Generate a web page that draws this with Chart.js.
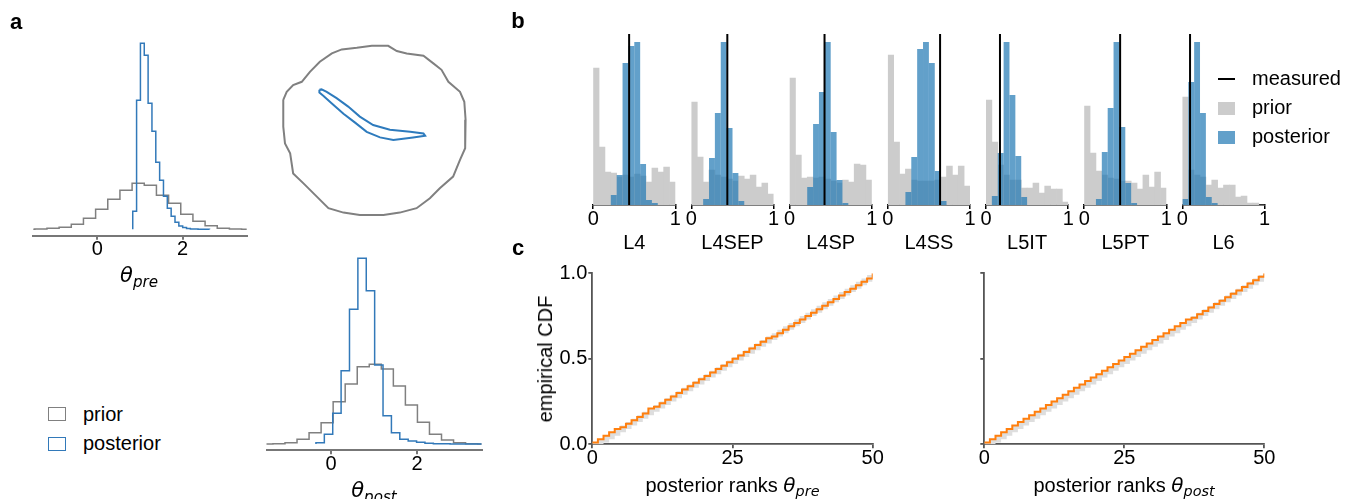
<!DOCTYPE html>
<html>
<head>
<meta charset="utf-8">
<script src="https://cdn.jsdelivr.net/npm/chart.js@4.4.1/dist/chart.umd.min.js"></script>
<style>
  html, body { margin: 0; padding: 0; background: #fff; }
  #fig { position: relative; width: 1361px; height: 499px; overflow: hidden;
         font-family: "Liberation Sans", Arial, sans-serif; color: #000; }
  .m { font-family: "DejaVu Sans", sans-serif; font-style: italic; }
  .m sub { font-size: 0.72em; position: relative; top: 0.3em; vertical-align: baseline; }
</style>
</head>
<body>
<div id="fig"></div>
<script>
// ── Panel a: step histograms (bin start, bin width, heights) ──────────────────
const aTicks = [0, 2];
const priorPreStart = -1.75, priorPreWidth = 0.285;
const priorPreCounts = [0.1, 0.2, 1, 2, 5, 11, 20, 30, 39, 46, 44, 34, 26, 15, 8, 3.5, 1, 0.3, 0.1, 0.05];
const postPreStart = 0.83, postPreWidth = 0.09;
const postPreCounts = [18, 129, 186, 174, 126, 98, 67, 49, 33, 21, 13, 7, 3.3, 1.7, 0.7, 0.4, 0.2, 0.1, 0.1, 0.1];
const priorPostStart = -1.63, priorPostWidth = 0.28;
const priorPostCounts = [0, 0.3, 1.3, 4.7, 11.3, 21.3, 42.3, 60, 77.3, 79.7, 75, 58, 39, 21.7, 9.7, 4, 1.3, 0.3, 0.1, 0];
const postPostStart = -0.35, postPostWidth = 0.195;
const postPostCounts = [1.3, 9.7, 30.7, 73.3, 134.7, 185.7, 153.3, 79, 28.3, 11.3, 4.7, 3, 1.7, 0.7, 0.3, 0.2, 0.1, 0.1, 0.1, 0.1];

// contour lines (x = θ_post, y = θ_pre), closed loops
const priorContourX = [-1.11,-1.03,-0.88,-0.68,-0.49,-0.26,0.02,0.25,0.60,0.95,1.33,1.53,1.76,2.15,2.38,2.57,2.73,3.00,3.10,3.13,3.12,3.00,2.84,2.53,2.30,1.99,1.60,1.22,0.67,0.29,-0.06,-0.33,-0.64,-0.88,-0.95,-1.07,-1.11,-1.11];
const priorContourY = [1.88,2.08,2.25,2.33,2.58,2.83,3.04,3.14,3.18,3.23,3.23,3.10,3.04,2.98,2.79,2.63,2.33,2.08,1.83,1.38,0.67,0.38,-0.04,-0.33,-0.58,-0.83,-0.94,-1.00,-1.00,-0.94,-0.83,-0.54,-0.21,0.04,0.54,0.79,1.21,1.88];
const postContourX = [-0.27,-0.22,-0.10,0.13,0.40,0.67,0.98,1.37,1.84,2.15,2.19,1.91,1.45,1.14,0.83,0.56,0.29,0.02,-0.18,-0.27,-0.27];
const postContourY = [2.13,2.14,2.08,1.92,1.71,1.46,1.25,1.13,1.08,1.04,0.98,0.94,0.875,0.94,1.08,1.31,1.53,1.79,1.98,2.06,2.13];

// ── Panel b: 14 bins on [0, 1] per cell type ──────────────────────────────────
const cellTypes = ["L4", "L4SEP", "L4SP", "L4SS", "L5IT", "L5PT", "L6"];
const measured  = [0.437, 0.437, 0.425, 0.636, 0.17, 0.437, 0.093];
const bTicks = [0, 1];
const priorB = [
  [137, 58, 33, 32, 28, 30, 28, 31, 29, 23, 37, 33, 38, 23],
  [103, 48, 23, 35, 30, 28, 26, 24, 29, 26, 30, 18, 22, 11],
  [127, 50, 27, 28, 27, 28, 26, 24, 22, 25, 23, 41, 40, 25],
  [150, 63, 31, 36, 25, 24, 24, 24, 25, 28, 39, 30, 39, 19],
  [105, 63, 40, 30, 25, 25, 17, 17, 22, 12, 19, 16, 16, 3],
  [99, 52, 34, 30, 27, 26, 24, 24, 22, 16, 30, 18, 33, 17],
  [108, 35, 30, 28, 20, 25, 17, 20, 20, 8, 9, 2, 2, 0],
];
const postB = [
  [0, 0, 0, 10, 30, 142, 159, 163, 41, 5, 2, 0, 0, 0],
  [0, 0, 6, 47, 92, 163, 77, 32, 4, 0, 0, 0, 0, 0],
  [0, 0, 0, 18, 81, 113, 163, 73, 25, 2, 0, 0, 0, 0],
  [0, 0, 0, 13, 48, 156, 163, 142, 34, 4, 0, 0, 0, 0],
  [0, 9, 52, 163, 110, 49, 8, 0, 0, 0, 0, 0, 0, 0],
  [0, 0, 6, 53, 97, 163, 78, 22, 2, 0, 0, 0, 0, 0],
  [6, 123, 163, 92, 8, 2, 0, 0, 0, 0, 0, 0, 0, 0],
];

// ── Panel c: empirical CDF of ranks 0..50 and uniform reference band ──────────
const cTicksX = [0, 25, 50];
const cTicksY = [0, 0.5, 1];
const cdfPre  = [0.01,0.03,0.05,0.07,0.09,0.10,0.12,0.14,0.16,0.18,0.21,0.22,0.24,0.26,0.28,0.30,0.32,0.34,0.36,0.38,0.40,0.42,0.44,0.46,0.48,0.50,0.52,0.54,0.56,0.58,0.60,0.62,0.63,0.65,0.67,0.69,0.71,0.73,0.75,0.77,0.79,0.81,0.83,0.85,0.87,0.89,0.91,0.93,0.95,0.97,1.00];
const cdfPost = [0.01,0.03,0.05,0.07,0.09,0.11,0.13,0.15,0.17,0.19,0.21,0.23,0.25,0.27,0.29,0.31,0.33,0.35,0.37,0.39,0.41,0.43,0.45,0.47,0.49,0.51,0.53,0.55,0.57,0.59,0.61,0.63,0.65,0.67,0.69,0.71,0.73,0.74,0.76,0.78,0.80,0.82,0.84,0.86,0.88,0.90,0.92,0.94,0.96,0.98,1.00];
const bandHi  = [0.01,0.03,0.05,0.07,0.09,0.11,0.13,0.15,0.17,0.19,0.21,0.23,0.25,0.27,0.29,0.31,0.33,0.35,0.37,0.39,0.41,0.43,0.45,0.47,0.49,0.51,0.53,0.55,0.57,0.59,0.61,0.63,0.65,0.67,0.69,0.71,0.73,0.75,0.77,0.79,0.81,0.83,0.85,0.87,0.89,0.91,0.93,0.95,0.97,0.99,1.00];
const bandLo  = [0.00,0.00,0.01,0.03,0.05,0.07,0.09,0.11,0.13,0.15,0.17,0.19,0.21,0.23,0.25,0.27,0.29,0.31,0.33,0.35,0.37,0.39,0.41,0.43,0.45,0.47,0.49,0.51,0.53,0.55,0.57,0.59,0.61,0.63,0.65,0.67,0.69,0.71,0.73,0.75,0.77,0.79,0.81,0.83,0.85,0.87,0.89,0.91,0.93,0.95,0.97];

// ── Style ─────────────────────────────────────────────────────────────────────
const FONT   = "'Liberation Sans', Arial, sans-serif";
const GRAY   = "#808080";
const BLUE   = "#3279b9";
const PRIOR  = "#cccccc";
const POST   = "rgba(31,119,180,0.7)";
const ORANGE = "#ff7f0e";
const AX_H = 30, AY_W = 45;   // fixed sizes of the visible axis boxes
const fig = document.getElementById("fig");

// ── Helpers ───────────────────────────────────────────────────────────────────
// canvas whose chart area lands exactly on (x0,y0)-(x1,y1) of the page
function frame(x0, y0, x1, y1, hasX, hasY, P = 60) {
  const cl = Math.floor(x0) - P, ct = Math.floor(y0) - P;
  const cw = Math.ceil(x1) + P - cl, ch = Math.ceil(y1) + P - ct;
  const cv = document.createElement("canvas");
  cv.width = cw; cv.height = ch;
  cv.style.cssText = `position:absolute;left:${cl}px;top:${ct}px;width:${cw}px;height:${ch}px`;
  fig.appendChild(cv);
  return { cv, padding: {
    left: x0 - cl - (hasY ? AY_W : 0),
    top: y0 - ct,
    right: cw - (x1 - cl),
    bottom: ch - (y1 - ct) - (hasX ? AX_H : 0),
  } };
}

function opts(padding, scales) {
  return {
    responsive: false, animation: false, devicePixelRatio: 1, events: [],
    layout: { padding },
    plugins: { legend: { display: false }, tooltip: { enabled: false } },
    scales,
  };
}

function xAxis(min, max, tickVals, spine, spineW, fmt) {
  return {
    type: "linear", min, max, offset: false,
    afterBuildTicks: s => { s.ticks = tickVals.map(v => ({ value: v })); },
    afterFit: s => { s.height = AX_H; s.paddingLeft = 0; s.paddingRight = 0; },
    border: { display: true, color: spine, width: spineW },
    grid: { display: true, offset: false, drawOnChartArea: false, tickLength: 4, color: spine, lineWidth: spineW },
    ticks: { autoSkip: false, maxRotation: 0, padding: 0, color: "#000",
             font: { family: FONT, size: 20, lineHeight: 1 }, callback: fmt || (v => String(v)) },
  };
}

function yAxis(min, max, tickVals, spine, spineW, fmt) {
  return {
    type: "linear", min, max,
    afterBuildTicks: s => { s.ticks = tickVals.map(v => ({ value: v })); },
    afterFit: s => { s.width = AY_W; s.paddingTop = 0; s.paddingBottom = 0; },
    border: { display: true, color: spine, width: spineW },
    grid: { display: true, drawOnChartArea: false, tickLength: 4, color: spine, lineWidth: spineW },
    ticks: { autoSkip: false, padding: 1, color: "#000",
             font: { family: FONT, size: 20, lineHeight: 1 }, callback: fmt },
  };
}

function stepPoints(start, width, counts) {
  const pts = [{ x: start, y: 0 }];
  counts.forEach((c, i) => pts.push({ x: start + i * width, y: c }));
  pts.push({ x: start + counts.length * width, y: 0 });
  return pts;
}

function stepLine(data, color, order) {
  return { data, borderColor: color, borderWidth: 1.5, stepped: true, pointRadius: 0, fill: false, order };
}

function txt(html, x, y, o = {}) {
  const d = document.createElement("div");
  d.innerHTML = html;
  const tx = o.align === "left" ? "0" : "-50%";
  d.style.cssText = `position:absolute;left:${x}px;top:${y}px;font-size:${o.size || 20}px;` +
    `font-weight:${o.weight || "normal"};white-space:nowrap;line-height:1;` +
    `transform:translate(${tx},-50%) rotate(${o.rot || 0}deg)`;
  fig.appendChild(d);
}

function swatch(x, y, w, h, css) {
  const d = document.createElement("div");
  d.style.cssText = `position:absolute;left:${x}px;top:${y}px;width:${w}px;height:${h}px;box-sizing:border-box;${css}`;
  fig.appendChild(d);
}

// ── Panel a ───────────────────────────────────────────────────────────────────
(() => {
  const f = frame(33.3, 34, 246.7, 235.7, true, false);
  new Chart(f.cv, {
    type: "line",
    data: { datasets: [
      stepLine(stepPoints(postPreStart, postPreWidth, postPreCounts), BLUE, 1),
      stepLine(stepPoints(priorPreStart, priorPreWidth, priorPreCounts), GRAY, 2),
    ] },
    options: opts(f.padding, {
      x: xAxis(-1.5, 3.5, aTicks, "#777", 2),
      y: { type: "linear", min: -6.4, max: 195.3, display: false },
    }),
  });
})();

(() => {
  const f = frame(266.5, 35, 481.5, 235, false, false);
  const pts = (xs, ys) => xs.map((x, i) => ({ x, y: ys[i] }));
  new Chart(f.cv, {
    type: "line",
    data: { datasets: [
      { data: pts(postContourX, postContourY), borderColor: "#2e7bbd", borderWidth: 2, pointRadius: 0, tension: 0, fill: false, order: 1 },
      { data: pts(priorContourX, priorContourY), borderColor: GRAY, borderWidth: 2, pointRadius: 0, tension: 0, fill: false, order: 2 },
    ] },
    options: opts(f.padding, {
      x: { type: "linear", min: -1.5, max: 3.5, display: false },
      y: { type: "linear", min: -1.5, max: 3.5, display: false },
    }),
  });
})();

(() => {
  const f = frame(266.5, 249, 481.5, 450.3, true, false);
  new Chart(f.cv, {
    type: "line",
    data: { datasets: [
      stepLine(stepPoints(postPostStart, postPostWidth, postPostCounts), BLUE, 1),
      stepLine(stepPoints(priorPostStart, priorPostWidth, priorPostCounts), GRAY, 2),
    ] },
    options: opts(f.padding, {
      x: xAxis(-1.5, 3.5, aTicks, "#777", 2),
      y: { type: "linear", min: -6.3, max: 195, display: false },
    }),
  });
})();

txt("a", 16, 22, { size: 22, weight: "bold" });
txt('<span class="m">θ<sub>pre</sub></span>', 139, 275, { size: 21 });
txt('<span class="m">θ<sub>post</sub></span>', 374, 490, { size: 21 });
swatch(48, 407, 18, 14, "border:1.5px solid " + GRAY);
swatch(48, 437, 18, 14, "border:1.5px solid " + BLUE);
txt("prior", 83, 414, { align: "left" });
txt("posterior", 83, 443, { align: "left" });

// ── Panel b ───────────────────────────────────────────────────────────────────
cellTypes.forEach((name, i) => {
  const x0 = 593.2 + 98.2 * i, x1 = x0 + 82.2;
  const f = frame(x0, 34, x1, 205, true, false);
  const bars = arr => arr.map((h, k) => ({ x: (k + 0.5) / arr.length, y: h }));
  new Chart(f.cv, {
    type: "bar",
    data: { datasets: [
      { type: "line", data: [{ x: measured[i], y: 0 }, { x: measured[i], y: 171 }],
        borderColor: "#000", borderWidth: 2, pointRadius: 0, order: 1 },
      { data: bars(postB[i]), backgroundColor: POST, borderWidth: 0, inflateAmount: 0,
        barPercentage: 1, categoryPercentage: 1, grouped: false, order: 2 },
      { data: bars(priorB[i]), backgroundColor: PRIOR, borderWidth: 0,
        barPercentage: 1, categoryPercentage: 1, grouped: false, order: 3 },
    ] },
    options: opts(f.padding, {
      x: xAxis(0, 1, bTicks, "#000", 1.5),
      y: { type: "linear", min: 0, max: 171, display: false },
    }),
  });
  txt(name, (x0 + x1) / 2, 241.5);
});

txt("b", 518, 21, { size: 22, weight: "bold" });
swatch(1218, 78, 17, 2, "background:#000");
swatch(1218, 102, 17, 13, "background:" + PRIOR);
swatch(1218, 131, 17, 13, "background:" + POST);
txt("measured", 1252, 78, { align: "left" });
txt("prior", 1252, 107, { align: "left" });
txt("posterior", 1252, 136, { align: "left" });

// ── Panel c ───────────────────────────────────────────────────────────────────
function cdfChart(x0, x1, cdf, showY) {
  const f = frame(x0, 273.3, x1, 444.3, true, true);
  const ranks = cdf.map((_, k) => k);
  const pts = arr => arr.map((v, k) => ({ x: ranks[k], y: v }));
  new Chart(f.cv, {
    type: "line",
    data: { datasets: [
      { data: pts(cdf), borderColor: ORANGE, borderWidth: 2, stepped: true, pointRadius: 0, fill: false, order: 1 },
      { data: pts(bandHi), borderWidth: 0, borderColor: "rgba(0,0,0,0)", backgroundColor: "#dedede",
        stepped: true, pointRadius: 0, fill: "+1", order: 2 },
      { data: pts(bandLo), borderWidth: 0, borderColor: "rgba(0,0,0,0)", stepped: true, pointRadius: 0, fill: false, order: 3 },
    ] },
    options: opts(f.padding, {
      x: xAxis(0, 50, cTicksX, "#555", 1.8),
      y: yAxis(0, 1, cTicksY, "#555", 1.8, showY ? (v => v.toFixed(1)) : (() => "")),
    }),
  });
}
cdfChart(592.3, 872.7, cdfPre, true);
cdfChart(984.3, 1264.3, cdfPost, false);

txt("c", 518, 248, { size: 22, weight: "bold" });
txt("empirical CDF", 545, 359, { rot: -90 });
txt('posterior ranks <span class="m">θ<sub>pre</sub></span>', 732.5, 485);
txt('posterior ranks <span class="m">θ<sub>post</sub></span>', 1124, 485);
</script>
</body>
</html>
